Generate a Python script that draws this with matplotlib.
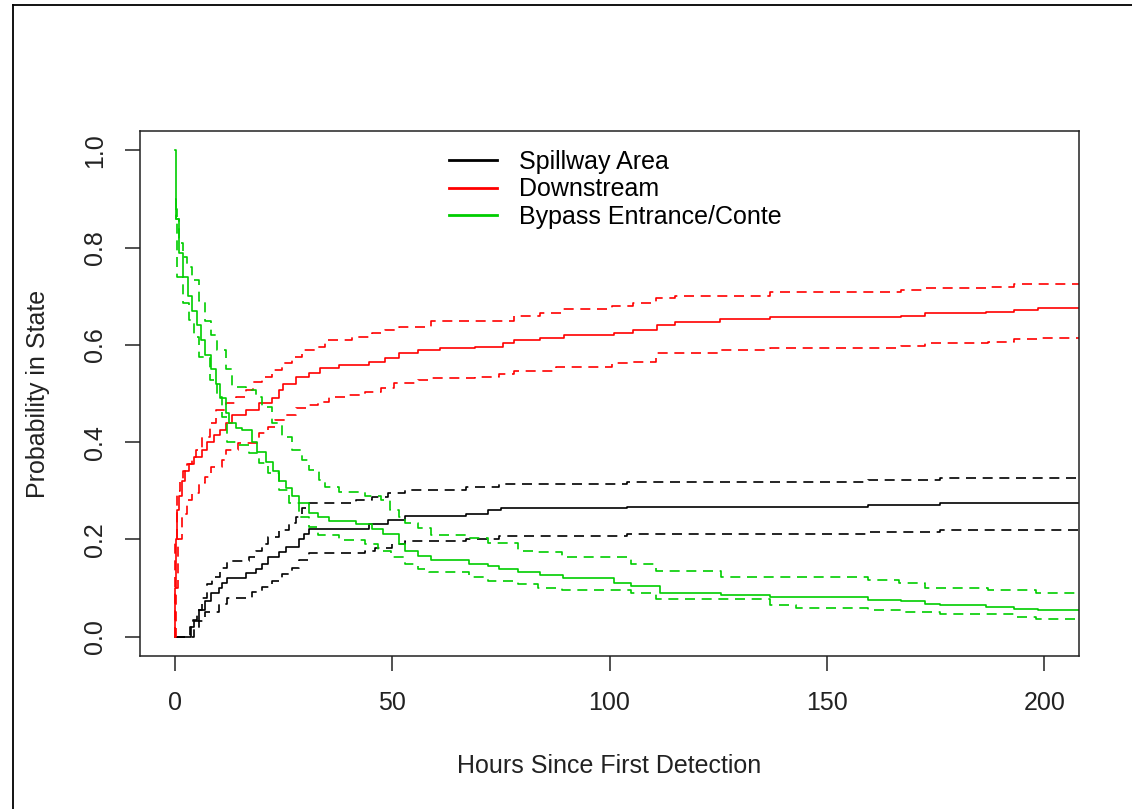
import numpy as np
import matplotlib.pyplot as plt
from matplotlib.lines import Line2D

plt.rcParams['font.family'] = ['Liberation Sans', 'DejaVu Sans']

# state-occupancy estimates (step functions, value from each time on)
t_end = 215

spill_t = [0, 3.7, 4.4, 5.6, 7, 8.4, 10.1, 10.9, 12, 16.3, 18.6, 20, 21.5, 24, 25.5, 28.5,
           29.7, 30.8, 44.6, 49, 53, 67, 72, 75, 104, 159.5, 176]
spill_p = [0, 0.02, 0.033, 0.054, 0.074, 0.089, 0.10, 0.11, 0.12, 0.13, 0.14, 0.15, 0.163,
           0.173, 0.185, 0.20, 0.212, 0.222, 0.232, 0.24, 0.249, 0.253, 0.26, 0.264, 0.267,
           0.27, 0.274]
spill_hi_t = [0, 3.5, 4.2, 5.2, 6.3, 7.4, 8.6, 10.5, 12, 17, 18.6, 20, 21.5, 24, 26.2, 27.8,
              29.3, 30.8, 41.6, 45.3, 49, 53, 67, 74.5, 104, 159.5, 176]
spill_hi = [0, 0.02, 0.035, 0.054, 0.08, 0.109, 0.122, 0.142, 0.155, 0.163, 0.177, 0.19, 0.204,
            0.219, 0.233, 0.245, 0.264, 0.275, 0.28, 0.287, 0.295, 0.301, 0.307, 0.313, 0.318,
            0.323, 0.326]
spill_lo_t = [0, 4.4, 5.6, 7, 10.1, 12, 17.7, 20, 22.3, 24.7, 27, 28.5, 30.8, 43.7, 46, 50,
              53, 67, 74.5, 104, 159.5, 176]
spill_lo = [0, 0.015, 0.033, 0.05, 0.068, 0.08, 0.091, 0.101, 0.115, 0.129, 0.142, 0.157,
            0.171, 0.175, 0.183, 0.19, 0.196, 0.201, 0.206, 0.21, 0.216, 0.22]

down_t = [0, 0.1, 0.3, 0.6, 1, 1.6, 2.4, 3.2, 4.5, 6.2, 7.5, 9, 10.5, 11.7, 13.1, 16.3, 19.3,
          22.3, 24, 25, 27.8, 30.8, 33.5, 37.7, 44.6, 48.4, 51.5, 56, 61, 69, 75.6, 78, 84,
          89.5, 101, 105.5, 111, 115, 125.5, 137, 167, 172.6, 186.7, 193, 198.6]
down_p = [0, 0.1, 0.2, 0.26, 0.29, 0.32, 0.34, 0.356, 0.37, 0.383, 0.40, 0.414, 0.425, 0.439,
          0.456, 0.466, 0.48, 0.49, 0.507, 0.52, 0.534, 0.542, 0.552, 0.558, 0.565, 0.573,
          0.583, 0.59, 0.593, 0.596, 0.604, 0.61, 0.614, 0.62, 0.624, 0.63, 0.641, 0.647,
          0.653, 0.658, 0.66, 0.666, 0.668, 0.672, 0.676]
down_hi_t = [0, 0.1, 0.5, 1.2, 2, 2.9, 4, 4.8, 6.3, 8, 9.4, 11.7, 14, 16.3, 18, 20, 22.3, 24.7,
             27, 29.3, 32.3, 34.6, 40.7, 45.3, 48.4, 51.5, 59, 78, 84, 89, 100.5, 105.5, 110.6,
             115, 137, 167, 172.6, 187, 193]
down_hi = [0, 0.2, 0.3, 0.32, 0.34, 0.356, 0.37, 0.383, 0.41, 0.439, 0.466, 0.48, 0.493, 0.507,
           0.524, 0.534, 0.548, 0.563, 0.575, 0.59, 0.596, 0.61, 0.617, 0.624, 0.63, 0.637,
           0.65, 0.66, 0.666, 0.674, 0.68, 0.687, 0.697, 0.701, 0.709, 0.713, 0.717, 0.72,
           0.726]
down_lo_t = [0, 0.3, 0.8, 1.6, 2.9, 4, 5.6, 7, 8.4, 10.9, 11.7, 14.6, 19.3, 21.5, 23, 25.5,
             27.8, 30.8, 33, 35.4, 40, 43.7, 47.5, 50.5, 56, 59, 69, 74.5, 78, 87.6, 100.5,
             105.5, 110.6, 125.7, 137, 167, 172.6, 187, 193, 198.6]
down_lo = [0, 0.1, 0.2, 0.253, 0.28, 0.295, 0.315, 0.328, 0.349, 0.363, 0.383, 0.398, 0.418,
           0.431, 0.445, 0.456, 0.47, 0.476, 0.483, 0.493, 0.497, 0.503, 0.511, 0.522, 0.528,
           0.532, 0.534, 0.54, 0.546, 0.555, 0.563, 0.565, 0.583, 0.59, 0.594, 0.598, 0.604,
           0.606, 0.612, 0.614]

bypass_t = [0, 0.3, 0.9, 2, 3, 4, 5, 6, 7, 8.3, 9.5, 10.5, 11.7, 12.4, 14, 15.5, 17.7, 19, 21,
            22.5, 24, 25.5, 27, 28.5, 30.8, 33, 35.4, 41.6, 45.3, 48, 51.5, 53, 56, 59, 67.6,
            72, 74.5, 79, 84, 89.4, 101, 105, 111.7, 125.7, 137, 159.5, 167, 172.6, 176,
            186.7, 193, 198.6]
bypass_p = [1.0, 0.86, 0.79, 0.74, 0.70, 0.67, 0.64, 0.61, 0.58, 0.55, 0.52, 0.49, 0.46, 0.44,
            0.43, 0.425, 0.40, 0.38, 0.36, 0.34, 0.32, 0.305, 0.29, 0.275, 0.255, 0.245, 0.237,
            0.232, 0.222, 0.21, 0.19, 0.175, 0.165, 0.157, 0.15, 0.145, 0.14, 0.132, 0.126,
            0.12, 0.11, 0.105, 0.09, 0.085, 0.081, 0.076, 0.073, 0.068, 0.064, 0.06, 0.057,
            0.054]
bypass_hi_t = [0, 0.3, 1, 2, 2.9, 4, 5.6, 7, 8.3, 9.7, 11.7, 13.1, 16.3, 18.6, 20, 22.3, 24.7,
               27, 29.3, 30.8, 33.1, 34.6, 37.7, 43.7, 47.5, 49.5, 51.5, 53, 56, 59, 67.6, 72,
               79, 82.5, 89, 105, 110.6, 125.7, 159.5, 166.5, 172.6, 187, 198]
bypass_hi = [0.9, 0.86, 0.81, 0.78, 0.76, 0.734, 0.69, 0.65, 0.62, 0.59, 0.55, 0.513, 0.507,
             0.493, 0.472, 0.44, 0.41, 0.383, 0.363, 0.342, 0.322, 0.307, 0.297, 0.29, 0.28,
             0.26, 0.245, 0.233, 0.223, 0.208, 0.202, 0.192, 0.177, 0.173, 0.163, 0.15, 0.134,
             0.122, 0.117, 0.11, 0.10, 0.095, 0.089]
bypass_lo_t = [0, 0.5, 2, 3.2, 4.4, 5.6, 8, 9.7, 10.9, 12, 14.6, 17, 19.3, 21.5, 24, 26.2, 28.5,
               30.8, 33, 37.7, 43.7, 46.7, 49.8, 53, 56, 58.5, 67.6, 72, 79, 83.5, 89, 105,
               110.6, 137, 143, 159.5, 167, 176, 193, 198]
bypass_lo = [0.88, 0.74, 0.686, 0.652, 0.617, 0.575, 0.528, 0.493, 0.452, 0.40, 0.394, 0.377,
             0.357, 0.336, 0.301, 0.274, 0.245, 0.225, 0.208, 0.198, 0.19, 0.177, 0.163, 0.15,
             0.14, 0.132, 0.122, 0.115, 0.109, 0.099, 0.095, 0.089, 0.078, 0.064, 0.058, 0.054,
             0.05, 0.047, 0.04, 0.036]

states = ['Spillway Area', 'Downstream', 'Bypass Entrance/Conte']
colors = ['black', '#FF0000', '#00CD00']
series = [
    (spill_t, spill_p, spill_hi_t, spill_hi, spill_lo_t, spill_lo),
    (down_t, down_p, down_hi_t, down_hi, down_lo_t, down_lo),
    (bypass_t, bypass_p, bypass_hi_t, bypass_hi, bypass_lo_t, bypass_lo),
]


def stairs(ax, t, p, **kw):
    # extend the last value out past the right edge
    ax.step(np.append(t, t_end), np.append(p, p[-1]), where='post', **kw)


fig = plt.figure(figsize=(11.32, 8.09), dpi=100)
ax = fig.add_axes([140 / 1132, 1 - 656 / 809, 939 / 1132, 525 / 809])

dash = (0, (6, 4))
for (t, p, th, ph, tl, pl), col, name in zip(series, colors, states):
    stairs(ax, t, p, color=col, lw=1.2, label=name)
    stairs(ax, th, ph, color=col, lw=1.2, linestyle=dash)
    stairs(ax, tl, pl, color=col, lw=1.2, linestyle=dash)

ax.set_xlim(-8, 208)
ax.set_ylim(-0.04, 1.04)
ax.set_xticks([0, 50, 100, 150, 200])
ax.set_yticks([0.0, 0.2, 0.4, 0.6, 0.8, 1.0])
ax.set_yticklabels(['0.0', '0.2', '0.4', '0.6', '0.8', '1.0'], rotation=90, va='center')
ax.tick_params(axis='both', direction='out', length=10.5, width=1.1, labelsize=18,
               colors='#222222')
ax.tick_params(axis='x', pad=15)
ax.tick_params(axis='y', pad=13)
for s in ax.spines.values():
    s.set_linewidth(1.1)
    s.set_color('#222222')

ax.set_xlabel('Hours Since First Detection', fontsize=18, labelpad=28, color='#222222')
ax.set_ylabel('Probability in State', fontsize=18, labelpad=24, color='#222222')

leg = ax.legend(loc='upper left', bbox_to_anchor=(0.318, 0.983), frameon=False, fontsize=18,
                handlelength=1.95, handletextpad=0.85, labelspacing=0.14, borderaxespad=0)
for h in leg.get_lines():
    h.set_linewidth(2.0)

# frame lines of the original window (top and left edges only)
fig.add_artist(Line2D([13 / 1132, 13 / 1132], [0, 1 - 5 / 809], color='black', lw=1.3))
fig.add_artist(Line2D([13 / 1132, 1], [1 - 5 / 809, 1 - 5 / 809], color='black', lw=1.3))

fig.savefig('out.png', dpi=100)
